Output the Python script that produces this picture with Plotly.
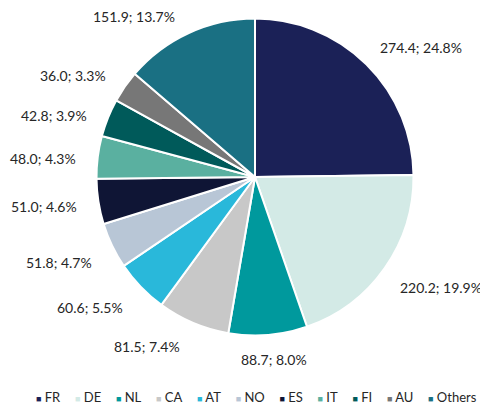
import math
import plotly.graph_objects as go

categories = ["FR", "DE", "NL", "CA", "AT", "NO", "ES", "IT", "FI", "AU", "Others"]
values = [274.4, 220.2, 88.7, 81.5, 60.6, 51.8, 51.0, 48.0, 42.8, 36.0, 151.9]
colors = ["#1B2157", "#D3EAE6", "#00999D", "#C8C8C8", "#29B8DA", "#B8C6D6",
          "#0F1535", "#5AB0A0", "#005A5A", "#777777", "#1A7083"]

FONT = "Lato"
TXT = "#262626"
OFF = 8  # page body margin
W, H = 488 - OFF, 409 - OFF
cx, cy, R = 255 - OFF, 177 - OFF, 157
RD = R + 1.5  # domain radius (edge lines eat a little)

fig = go.Figure()
fig.add_trace(go.Pie(
    labels=categories, values=values, sort=False, direction="clockwise", rotation=0,
    marker=dict(colors=colors, line=dict(color="white", width=2)),
    textinfo="none", showlegend=False, hoverinfo="label+value+percent",
    domain=dict(x=[(cx - RD) / W, (cx + RD) / W], y=[1 - (cy + RD) / H, 1 - (cy - RD) / H]),
))

# outside labels, placed at each slice's mid-angle (derived from the values)
total = sum(values)
cum = 0.0
for v in values:
    mid = (cum + v / 2) / total * 2 * math.pi
    cum += v
    s, c = math.sin(mid), math.cos(mid)
    px = cx + (R + 15) * s
    py = cy - (R + 15) * c
    if s > 0.2:
        xa, xs = "left", 2
    elif s < -0.2:
        xa, xs = "right", -6
    else:
        xa, xs = "center", 5
    if c > 0.65:
        ya, ys = "bottom", (-3 if s > 0 else -6)
    elif c < -0.35:
        ya, ys = "top", -1
    else:
        ya, ys = "middle", (3 if c > 0.5 else -3)
    fig.add_annotation(text=f"{v:.1f}; {v / total * 100:.1f}%", x=px / W, y=1 - py / H,
                       xref="paper", yref="paper", showarrow=False,
                       xanchor=xa, yanchor=ya, xshift=xs, yshift=ys,
                       font=dict(family=FONT, size=14, color=TXT))

sep = '<span style="font-size:11.5px">' + "&nbsp;" * 5 + "</span>"
items = [f'<span style="color:{c};font-size:9px">■</span> {n}' for n, c in zip(categories, colors)]
fig.add_annotation(text=sep.join(items), x=(256 - OFF) / W, y=1 - (397 - OFF) / H,
                   xref="paper", yref="paper",
                   showarrow=False, font=dict(family=FONT, size=13, color=TXT),
                   xanchor="center", yanchor="middle")

fig.update_layout(width=W, height=H, margin=dict(l=0, r=0, t=0, b=0),
                  paper_bgcolor="white", plot_bgcolor="white",
                  font=dict(family=FONT))
fig.write_html("out.html")
